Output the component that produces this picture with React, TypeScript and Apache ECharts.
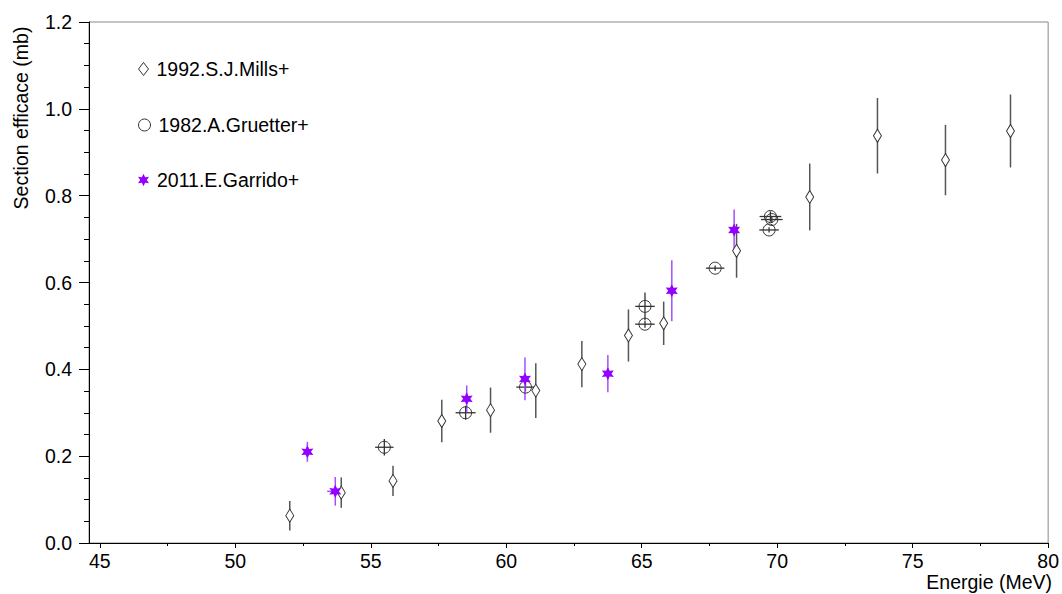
import React, { useEffect, useRef } from "react";
import * as echarts from "echarts";

const millsName = "1992.S.J.Mills+";
const gruetterName = "1982.A.Gruetter+";
const garridoName = "2011.E.Garrido+";

const millsE = [52.01, 53.91, 55.82, 57.62, 59.42, 61.09, 62.79, 64.51, 65.81, 68.5, 71.2, 73.7, 76.21, 78.61];
const millsV = [0.063, 0.116, 0.143, 0.281, 0.306, 0.351, 0.412, 0.478, 0.506, 0.673, 0.797, 0.938, 0.882, 0.949];
const millsErr = [0.034, 0.035, 0.035, 0.049, 0.052, 0.063, 0.053, 0.06, 0.05, 0.062, 0.077, 0.087, 0.081, 0.084];

const gruetterE = [55.5, 58.5, 60.71, 65.12, 65.12, 67.71, 69.75, 69.8, 69.7];
const gruetterV = [0.2205, 0.3, 0.359, 0.545, 0.504, 0.633, 0.752, 0.745, 0.721];
const gruetterErrX = [0.34, 0.37, 0.34, 0.36, 0.36, 0.34, 0.4, 0.4, 0.36];
const gruetterErrY = [0.019, 0.016, 0.01, 0.032, 0.008, 0.006, 0.012, 0.008, 0.006];

const garridoE = [52.66, 53.69, 58.54, 60.69, 63.75, 66.11, 68.41];
const garridoV = [0.21, 0.119, 0.332, 0.378, 0.39, 0.581, 0.721];
const garridoErrX = [0, 0.3, 0, 0, 0, 0, 0];
const garridoErrY = [0.023, 0.033, 0.031, 0.049, 0.043, 0.07, 0.047];

const xLabelTicks = [45, 50, 55, 60, 65, 70, 75, 80];
const xMinorTicks = [47.5, 52.5, 57.5, 62.5, 67.5, 72.5, 77.5];

const STAR =
  "path://M0,-10 L2.6,-4.5 L8.7,-5 L5.2,0 L8.7,5 L2.6,4.5 L0,10 L-2.6,4.5 L-8.7,5 L-5.2,0 L-8.7,-5 L-2.6,-4.5 Z";

const FONT = "'Liberation Sans', Arial, sans-serif";
const FS = 19.5;

function errSeries(E: number[], V: number[], ex: number[], ey: number[], color: string, width: number) {
  return {
    type: "custom",
    xAxisIndex: 0,
    yAxisIndex: 0,
    z: 2,
    silent: true,
    encode: { x: 0, y: 1 },
    data: E.map((e, i) => [e, V[i], ex[i], ey[i]]),
    renderItem: (params: any, api: any) => {
      const x = api.value(0);
      const y = api.value(1);
      const dx = api.value(2);
      const dy = api.value(3);
      const children: any[] = [];
      if (dy > 0) {
        const p1 = api.coord([x, y - dy]);
        const p2 = api.coord([x, y + dy]);
        children.push({
          type: "line",
          shape: { x1: p1[0], y1: p1[1], x2: p2[0], y2: p2[1] },
          style: { stroke: color, lineWidth: width },
        });
      }
      if (dx > 0) {
        const p1 = api.coord([x - dx, y]);
        const p2 = api.coord([x + dx, y]);
        children.push({
          type: "line",
          shape: { x1: p1[0], y1: p1[1], x2: p2[0], y2: p2[1] },
          style: { stroke: color, lineWidth: width },
        });
      }
      return { type: "group", children };
    },
  };
}

export default function App() {
  const ref = useRef<HTMLDivElement>(null);
  useEffect(() => {
    if (!ref.current) return;
    const chart = echarts.init(ref.current, undefined, { renderer: "svg" });
    const legendText = { color: "#000", fontSize: FS, fontFamily: FONT, padding: [0, 0, 0, 3] };
    chart.setOption({
      animation: false,
      backgroundColor: "#fff",
      grid: {
        left: 89,
        right: 10,
        top: 22,
        bottom: 51,
        show: true,
        borderColor: "#888",
        borderWidth: 1,
        backgroundColor: "transparent",
      },
      legend: [
        {
          left: 138,
          top: 59,
          padding: 0,
          itemWidth: 10,
          itemHeight: 13,
          textStyle: legendText,
          data: [{ name: millsName, icon: "diamond", itemStyle: { color: "#fff", borderColor: "#333", borderWidth: 1 } }],
        },
        {
          left: 138,
          top: 115,
          padding: 0,
          itemWidth: 12,
          itemHeight: 12,
          textStyle: legendText,
          data: [{ name: gruetterName, icon: "circle", itemStyle: { color: "#fff", borderColor: "#333", borderWidth: 1 } }],
        },
        {
          left: 138,
          top: 170,
          padding: 0,
          itemWidth: 11,
          itemHeight: 13,
          textStyle: legendText,
          data: [{ name: garridoName, icon: STAR, itemStyle: { color: "#9400ff", borderWidth: 0 } }],
        },
      ],
      xAxis: [
        {
          type: "value",
          min: 44.6,
          max: 80,
          axisLine: { show: true, lineStyle: { color: "#000", width: 1 } },
          axisTick: { show: true, customValues: xLabelTicks, length: 5, lineStyle: { color: "#000" } },
          axisLabel: {
            customValues: xLabelTicks,
            color: "#000",
            fontSize: FS,
            fontFamily: FONT,
            margin: 8,
            showMinLabel: true,
            showMaxLabel: true,
          },
          splitLine: { show: false },
        },
        {
          type: "value",
          min: 44.6,
          max: 80,
          position: "bottom",
          axisLine: { show: false },
          axisTick: { show: true, customValues: xMinorTicks, length: 3, lineStyle: { color: "#000" } },
          axisLabel: { show: false },
          splitLine: { show: false },
        },
      ],
      yAxis: {
        type: "value",
        min: 0,
        max: 1.2,
        interval: 0.2,
        axisLine: { show: true, lineStyle: { color: "#000", width: 1 } },
        axisTick: { show: true, length: 10, lineStyle: { color: "#000" } },
        minorTick: { show: true, splitNumber: 4, length: 5, lineStyle: { color: "#000" } },
        axisLabel: {
          color: "#000",
          fontSize: FS,
          fontFamily: FONT,
          margin: 17,
          formatter: (v: number) => v.toFixed(1),
        },
        splitLine: { show: false },
      },
      graphic: [
        {
          type: "text",
          x: 21,
          y: 118,
          rotation: Math.PI / 2,
          style: {
            text: "Section efficace (mb)",
            fill: "#000",
            fontSize: FS,
            fontFamily: FONT,
            align: "center",
            verticalAlign: "middle",
          },
        },
        {
          type: "text",
          x: 1052,
          y: 582,
          style: {
            text: "Energie (MeV)",
            fill: "#000",
            fontSize: FS,
            fontFamily: FONT,
            align: "right",
            verticalAlign: "middle",
          },
        },
      ],
      series: [
        errSeries(millsE, millsV, millsE.map(() => 0), millsErr, "#555", 1.5),
        errSeries(gruetterE, gruetterV, gruetterErrX, gruetterErrY, "#333", 1.3),
        errSeries(garridoE, garridoV, garridoErrX, garridoErrY, "#a64dff", 1.5),
        {
          name: millsName,
          type: "scatter",
          z: 3,
          symbol: "diamond",
          symbolSize: [8, 13],
          itemStyle: { color: "#fff", borderColor: "#333", borderWidth: 1, opacity: 1 },
          data: millsE.map((e, i) => [e, millsV[i]]),
        },
        {
          name: gruetterName,
          type: "scatter",
          z: 3,
          symbol: "circle",
          symbolSize: 12,
          itemStyle: { color: "rgba(255,255,255,0)", borderColor: "#333", borderWidth: 1, opacity: 1 },
          data: gruetterE.map((e, i) => [e, gruetterV[i]]),
        },
        {
          name: garridoName,
          type: "scatter",
          z: 4,
          symbol: STAR,
          symbolSize: [12, 13],
          itemStyle: { color: "#9400ff", opacity: 1 },
          data: garridoE.map((e, i) => [e, garridoV[i]]),
        },
      ],
    });
    return () => chart.dispose();
  }, []);
  return <div ref={ref} style={{ width: 1062, height: 594, position: "absolute", left: 0, top: 0 }} />;
}
